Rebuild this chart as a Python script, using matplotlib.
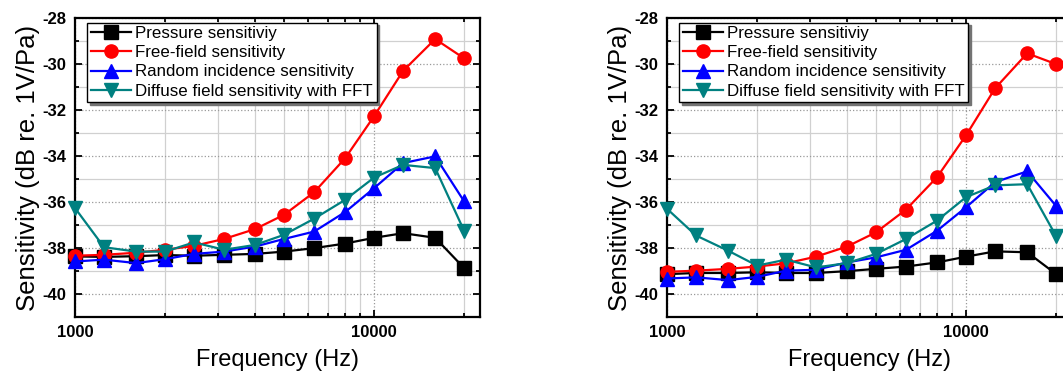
import matplotlib
matplotlib.use('Agg')
import matplotlib.pyplot as plt
from matplotlib.ticker import FixedLocator, NullFormatter, MultipleLocator

plt.rcParams['font.family'] = ['Liberation Sans', 'DejaVu Sans']
plt.rcParams['axes.unicode_minus'] = False

freq = [1000, 1250, 1600, 2000, 2500, 3150, 4000, 5000, 6300, 8000, 10000, 12500, 16000, 20000]

# left panel
pressure_a = [-38.36, -38.38, -38.35, -38.3, -38.33, -38.29, -38.25, -38.15, -38.0, -37.8, -37.55, -37.35, -37.55, -38.87]
free_a = [-38.33, -38.29, -38.2, -38.07, -37.9, -37.6, -37.17, -36.55, -35.57, -34.09, -32.26, -30.29, -28.91, -29.75]
random_a = [-38.58, -38.5, -38.65, -38.48, -38.25, -38.15, -37.93, -37.6, -37.28, -36.43, -35.39, -34.3, -34.01, -35.97]
diffuse_a = [-36.26, -37.96, -38.15, -38.15, -37.75, -38.07, -37.86, -37.42, -36.72, -35.9, -34.93, -34.38, -34.52, -37.25]

# right panel
pressure_b = [-39.13, -39.08, -39.08, -39.05, -39.08, -39.08, -39.0, -38.9, -38.8, -38.62, -38.37, -38.14, -38.18, -39.13]
free_b = [-39.03, -38.98, -38.9, -38.8, -38.66, -38.37, -37.93, -37.31, -36.32, -34.91, -33.09, -31.05, -29.53, -30.0]
random_b = [-39.32, -39.27, -39.39, -39.25, -38.98, -38.94, -38.62, -38.4, -38.07, -37.24, -36.22, -35.13, -34.66, -36.17]
diffuse_b = [-36.29, -37.45, -38.11, -38.76, -38.5, -38.84, -38.65, -38.25, -37.6, -36.8, -35.78, -35.27, -35.22, -37.48]

labels = ['Pressure sensitiviy', 'Free-field sensitivity',
          'Random incidence sensitivity', 'Diffuse field sensitivity with FFT']
colors = ['black', '#ff0000', '#0000ff', '#008080']
markers = ['s', 'o', '^', 'v']

fig = plt.figure(figsize=(10.63, 3.78), dpi=100)
ax1 = fig.add_axes([0.0706, 0.161, 0.381, 0.791])
ax2 = fig.add_axes([0.6275, 0.161, 0.381, 0.791])


def draw(ax, series):
    for ys, lab, c, m in zip(series, labels, colors, markers):
        ax.plot(freq, ys, color=c, marker=m, markersize=9.5, linewidth=1.6,
                label=lab, clip_on=False, zorder=3)
    ax.set_xscale('log')
    ax.set_xlim(1000, 22600)
    ax.set_ylim(-41, -28)
    ax.xaxis.set_major_locator(FixedLocator([1000, 10000]))
    ax.xaxis.set_minor_locator(FixedLocator([2000, 3000, 4000, 5000, 6000, 7000, 8000, 9000, 20000]))
    ax.xaxis.set_minor_formatter(NullFormatter())
    ax.set_xticklabels(['1000', '10000'])
    ax.yaxis.set_major_locator(MultipleLocator(2))
    ax.yaxis.set_minor_locator(MultipleLocator(1))
    ax.grid(True, which='major', color='#999999', linestyle=':', linewidth=0.9)
    ax.grid(True, which='minor', color='#d0d0d0', linestyle='-', linewidth=0.9)
    ax.set_axisbelow(True)
    ax.tick_params(which='both', direction='in', top=True, right=True, width=1.3)
    ax.tick_params(which='major', length=5, labelsize=12, pad=6)
    ax.tick_params(which='minor', length=3)
    for lab in ax.get_xticklabels() + ax.get_yticklabels():
        lab.set_fontweight('bold')
    for s in ax.spines.values():
        s.set_linewidth(1.6)
    ax.set_xlabel('Frequency (Hz)', fontsize=17, labelpad=6)
    ax.set_ylabel('Sensitivity (dB re. 1V/Pa)', fontsize=18.5, labelpad=2)
    leg = ax.legend(loc='upper left', bbox_to_anchor=(0.03, 0.985), fontsize=12.2,
                    frameon=True, fancybox=False, edgecolor='black', framealpha=1,
                    handlelength=2.4, handletextpad=0.25, borderpad=0.2,
                    labelspacing=0.25, borderaxespad=0,
                    shadow={'color': '0.45', 'alpha': 1})
    leg.get_frame().set_linewidth(1.0)


draw(ax1, [pressure_a, free_a, random_a, diffuse_a])
draw(ax2, [pressure_b, free_b, random_b, diffuse_b])

fig.savefig('out.png', dpi=100)
